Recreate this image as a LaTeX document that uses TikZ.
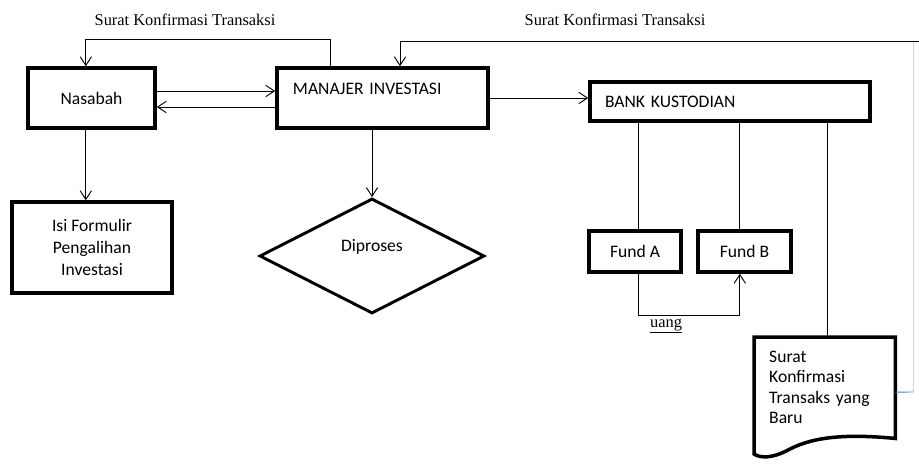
\documentclass[tikz,border=0pt]{standalone}
\usepackage{fontspec}
\setmainfont{Carlito}
\newfontfamily\serif{Liberation Serif}
\usetikzlibrary{arrows.meta,shapes.geometric,positioning}
\definecolor{linkblue}{RGB}{79,129,189}
\tikzstyle{thick box}=[
    draw,
    line width = 3pt,
    fill = white,
    rectangle
]

\begin{document}
\begin{tikzpicture}[x=0.03cm, y=-0.03cm, font=\fontsize{15}{18}\selectfont,
    flow/.style = {-{Straight Barb[length=2.6mm,width=3.4mm]}, line width=0.8pt},
    serif label/.style = {font=\serif\fontsize{14}{16}\selectfont}]
        \useasboundingbox (0,0) rectangle (919,464);

        \node[thick box, minimum width=3.81cm, minimum height=1.8cm] (nas) at (91.5,98) {Nasabah};
        \node[thick box, minimum width=6.33cm, minimum height=1.8cm, text width=5.37cm, align=left,
              inner xsep=0.48cm, inner ysep=0pt, text height=0.78cm, text depth=1.02cm] (mi) at (382.5,98) {MANAJER INVESTASI};
        \node[thick box, minimum width=4.8cm, minimum height=2.73cm, align=center,
              font=\fontsize{15}{19}\selectfont] (form) at (92,247.5) {Isi Formulir\\Pengalihan\\Investasi};
        \node[draw, diamond, line width=2.5pt, fill=white, minimum width=6.75cm, minimum height=3.45cm, inner sep=0pt,
              text height=0.37cm, text depth=0.64cm] (dip) at (372,256) {Diproses};
        \node[thick box, minimum width=8.4cm, minimum height=1.17cm, text width=7.5cm, inner xsep=0.45cm, align=left] (bank) at (730,101.5) {BANK KUSTODIAN};
        \node[thick box, minimum width=2.76cm, minimum height=1.23cm] (fa) at (635,251.5) {Fund A};
        \node[thick box, minimum width=2.79cm, minimum height=1.23cm] (fb) at (744.5,251.5) {Fund B};
        \node[anchor=north west, text width=3.33cm, inner xsep=0.45cm, inner ysep=0pt, align=left,
              text height=0.75cm, text depth=2.28cm, font=\fontsize{15}{17.4}\selectfont] (doc) at (754,337)
              {Surat\\Konfirmasi\\Transaks yang\\Baru};
        \draw[line width=3pt] (doc.north west) -- (doc.north east) -- (doc.south east)
              .. controls (850,434) and (815,436) .. (790,449)
              .. controls (772,459) and (760,458) .. (754,454) -- cycle;

        \node[serif label] (lbl1) at (185,20) {Surat Konfirmasi Transaksi};
        \node[serif label] (lbl2) at (615,20) {Surat Konfirmasi Transaksi};
        \node[serif label] (uang) at (666,326) {\underline{uang}};

        \coordinate (c1) at (913,392);
        \coordinate (c2) at (913,41);
        \coordinate (c3) at (919,41);

        \draw[flow] ([yshift=0.21cm]nas.east) -- ([yshift=0.21cm]mi.west);
        \draw[flow] ([yshift=-0.27cm]mi.west) -- ([yshift=-0.27cm]nas.east);
        \draw[flow] ([xshift=-1.575cm]mi.north) -- ++(0,-27) -| ([xshift=-0.17cm]nas.north);
        \draw[flow] ([xshift=-0.17cm]nas.south) -- ([xshift=-0.17cm]nas.south |- form.north);
        \draw[flow] (mi.south -| dip.north) -- (dip.north);
        \draw[flow] (mi.east) -- (mi.east -| bank.west);
        \draw[line width=0.8pt] ([xshift=0.1cm]fa.north) -- ([xshift=0.1cm]fa.north |- bank.south);
        \draw[line width=0.8pt] ([xshift=-0.14cm]fb.north) -- ([xshift=-0.14cm]fb.north |- bank.south);
        \draw[line width=0.8pt] ([xshift=0.08cm]doc.north) -- ([xshift=0.08cm]doc.north |- bank.south);
        \draw[flow] ([xshift=0.1cm]fa.south) -- ++(0,42) -| ([xshift=-0.14cm]fb.south);
        \draw[line width=0.8pt, linkblue] ([yshift=-0.13cm]doc.east) -- (c1);
        \draw[line width=0.6pt, gray!35] (c1) -- (c2);
        \draw[flow] (c3) -| ([xshift=0.525cm]mi.north);

    \end{tikzpicture}
\end{document}
